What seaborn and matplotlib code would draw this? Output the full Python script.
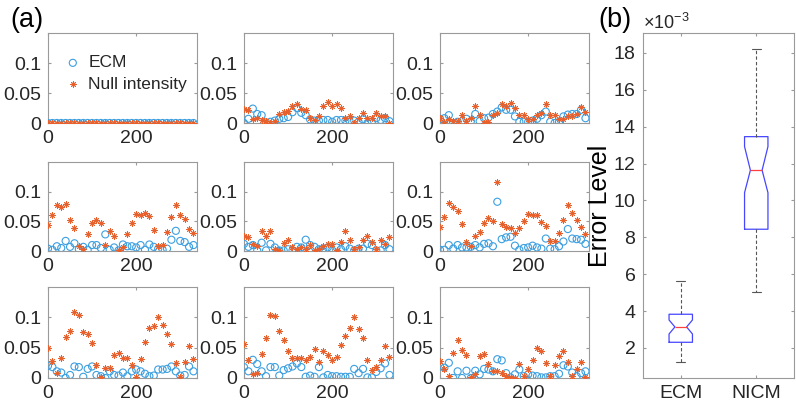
import numpy as np
import pandas as pd
import matplotlib
matplotlib.use("Agg")
import matplotlib.pyplot as plt
import seaborn as sns

# ---------------- data ----------------
angles = [0, 10, 20, 30, 40, 50, 60, 70, 80, 90, 100, 110, 120, 130, 140, 150, 160,
          170, 180, 190, 200, 210, 220, 230, 240, 250, 260, 270, 280, 290, 300, 310, 320, 330]

ecm_1 = [0.0] * 34
null_1 = [0.0] * 34

ecm_2 = [0.000, 0.007, 0.024, 0.015, 0.013, 0.001, 0.002, 0.004, 0.007, 0.008, 0.010, 0.018,
         0.025, 0.017, 0.013, 0.006, 0.004, 0.004, 0.005, 0.005, 0.002, 0.005, 0.005, 0.004,
         0.002, 0.004, 0.002, 0.006, 0.000, 0.002, 0.008, 0.005, 0.008, 0.003]
null_2 = [0.023, 0.021, 0.006, 0.009, 0.005, 0.003, 0.000, 0.004, 0.015, 0.018, 0.020, 0.028,
          0.032, 0.023, 0.021, 0.008, 0.005, 0.011, 0.029, 0.035, 0.029, 0.032, 0.025, 0.008,
          0.011, 0.000, 0.008, 0.016, 0.008, 0.008, 0.017, 0.011, 0.011, 0.000]

ecm_3 = [0.007, 0.008, 0.013, 0.000, 0.002, 0.003, 0.007, 0.003, 0.015, 0.003, 0.008, 0.009,
         0.015, 0.019, 0.026, 0.022, 0.022, 0.011, 0.002, 0.002, 0.002, 0.004, 0.007, 0.013,
         0.019, 0.002, 0.000, 0.002, 0.011, 0.014, 0.015, 0.015, 0.022, 0.008]
null_3 = [0.008, 0.001, 0.006, 0.003, 0.004, 0.014, 0.003, 0.008, 0.028, 0.013, 0.000, 0.002,
          0.013, 0.017, 0.032, 0.029, 0.033, 0.025, 0.013, 0.013, 0.007, 0.006, 0.013, 0.016,
          0.032, 0.014, 0.013, 0.007, 0.007, 0.012, 0.012, 0.015, 0.026, 0.019]

ecm_4 = [0.004, 0.002, 0.008, 0.005, 0.017, 0.007, 0.013, 0.003, 0.007, 0.002, 0.010, 0.010,
         0.005, 0.028, 0.002, 0.006, 0.001, 0.011, 0.008, 0.008, 0.006, 0.010, 0.002, 0.011,
         0.007, 0.004, 0.002, 0.004, 0.019, 0.034, 0.017, 0.015, 0.007, 0.010]
null_4 = [0.044, 0.060, 0.078, 0.074, 0.080, 0.053, 0.039, 0.008, 0.004, 0.028, 0.048, 0.052,
          0.047, 0.010, 0.034, 0.025, 0.001, 0.007, 0.029, 0.048, 0.062, 0.060, 0.064, 0.059,
          0.035, 0.008, 0.010, 0.032, 0.058, 0.077, 0.060, 0.054, 0.037, 0.030]

ecm_5 = [0.012, 0.007, 0.010, 0.001, 0.014, 0.001, 0.012, 0.006, 0.001, 0.001, 0.003, 0.001,
         0.007, 0.006, 0.019, 0.010, 0.007, 0.003, 0.004, 0.006, 0.001, 0.006, 0.003, 0.008,
         0.004, 0.001, 0.004, 0.004, 0.012, 0.010, 0.001, 0.001, 0.010, 0.003]
null_5 = [0.026, 0.023, 0.011, 0.008, 0.034, 0.025, 0.033, 0.004, 0.001, 0.014, 0.018, 0.007,
          0.003, 0.007, 0.003, 0.010, 0.001, 0.004, 0.008, 0.011, 0.011, 0.001, 0.015, 0.034,
          0.018, 0.004, 0.007, 0.019, 0.026, 0.015, 0.004, 0.018, 0.011, 0.023]

ecm_6 = [0.002, 0.002, 0.010, 0.004, 0.010, 0.006, 0.006, 0.007, 0.010, 0.006, 0.012, 0.013,
         0.008, 0.083, 0.020, 0.023, 0.024, 0.009, 0.002, 0.005, 0.006, 0.009, 0.006, 0.004,
         0.021, 0.004, 0.003, 0.008, 0.016, 0.037, 0.021, 0.020, 0.019, 0.012]
null_6 = [0.040, 0.058, 0.081, 0.074, 0.067, 0.045, 0.015, 0.008, 0.026, 0.032, 0.047, 0.055,
          0.051, 0.117, 0.045, 0.040, 0.038, 0.030, 0.039, 0.051, 0.063, 0.061, 0.061, 0.049,
          0.042, 0.017, 0.017, 0.031, 0.052, 0.078, 0.064, 0.053, 0.041, 0.029]

ecm_7 = [0.020, 0.018, 0.011, 0.009, 0.000, 0.005, 0.019, 0.018, 0.002, 0.015, 0.019, 0.005,
         0.003, 0.000, 0.011, 0.005, 0.004, 0.009, 0.003, 0.011, 0.014, 0.011, 0.007, 0.003,
         0.004, 0.014, 0.014, 0.015, 0.019, 0.011, 0.004, 0.005, 0.019, 0.011]
null_7 = [0.050, 0.028, 0.008, 0.033, 0.068, 0.077, 0.108, 0.104, 0.076, 0.072, 0.057, 0.022,
          0.001, 0.017, 0.017, 0.038, 0.042, 0.033, 0.033, 0.021, 0.002, 0.032, 0.060, 0.083,
          0.086, 0.100, 0.088, 0.072, 0.056, 0.025, 0.001, 0.027, 0.053, 0.032]

ecm_8 = [0.018, 0.011, 0.030, 0.023, 0.011, 0.003, 0.018, 0.018, 0.004, 0.013, 0.016, 0.019,
         0.024, 0.018, 0.002, 0.004, 0.002, 0.018, 0.001, 0.005, 0.003, 0.003, 0.002, 0.002,
         0.002, 0.015, 0.008, 0.015, 0.001, 0.001, 0.010, 0.016, 0.024, 0.005]
null_8 = [0.056, 0.029, 0.006, 0.008, 0.040, 0.066, 0.104, 0.102, 0.078, 0.062, 0.044, 0.033,
          0.033, 0.033, 0.029, 0.035, 0.048, 0.027, 0.044, 0.038, 0.029, 0.035, 0.055, 0.070,
          0.083, 0.100, 0.081, 0.066, 0.029, 0.013, 0.018, 0.030, 0.052, 0.034]

ecm_9 = [0.019, 0.017, 0.025, 0.000, 0.011, 0.000, 0.012, 0.000, 0.012, 0.006, 0.015, 0.014,
         0.011, 0.031, 0.029, 0.008, 0.001, 0.006, 0.014, 0.003, 0.006, 0.004, 0.003, 0.001,
         0.001, 0.003, 0.003, 0.007, 0.021, 0.019, 0.009, 0.003, 0.008, 0.011]
null_9 = [0.028, 0.015, 0.003, 0.041, 0.063, 0.046, 0.038, 0.001, 0.007, 0.036, 0.040, 0.023,
          0.011, 0.011, 0.008, 0.003, 0.001, 0.000, 0.023, 0.003, 0.015, 0.030, 0.050, 0.045,
          0.025, 0.003, 0.022, 0.036, 0.044, 0.027, 0.003, 0.015, 0.027, 0.002]

ecm_panels = [ecm_1, ecm_2, ecm_3, ecm_4, ecm_5, ecm_6, ecm_7, ecm_8, ecm_9]
null_panels = [null_1, null_2, null_3, null_4, null_5, null_6, null_7, null_8, null_9]

# boxplot summary (values in absolute units)
box_labels = ["ECM", "NICM"]
box_whislo = [1.23e-3, 5.02e-3]
box_q1 = [2.31e-3, 8.44e-3]
box_med = [3.14e-3, 11.64e-3]
box_q3 = [3.83e-3, 13.46e-3]
box_whishi = [5.65e-3, 18.23e-3]
box_cilo = [2.76e-3, 10.42e-3]
box_cihi = [3.52e-3, 12.92e-3]

# ---------------- style ----------------
sns.set_theme(style="white")
plt.rcParams["font.family"] = ["Liberation Sans", "DejaVu Sans"]
plt.rcParams["mathtext.fontset"] = "custom"
plt.rcParams["mathtext.rm"] = "Liberation Sans"

BLUE = "#3C9FE0"
ORANGE = "#E8602C"
SPINE = "#9a9a9a"
TXT = "#262626"

fig = plt.figure(figsize=(7.96, 4.08), dpi=100)

W, H = 796.0, 408.0
col_lefts = [48, 244, 440]
col_w = 149
row_tb = [(33, 123), (162, 251), (287, 378)]

ast_marker = (8, 2, 0)


def style_axes(ax):
    for s in ax.spines.values():
        s.set_color(SPINE)
        s.set_linewidth(0.8)
        s.set_visible(True)
    ax.tick_params(direction="in", length=2.5, width=0.8, color=SPINE,
                   top=True, right=True, bottom=True, left=True,
                   labelsize=14, labelcolor=TXT, pad=5)


for k in range(9):
    r, c = divmod(k, 3)
    top, bot = row_tb[r]
    ax = fig.add_axes([col_lefts[c] / W, 1 - bot / H, col_w / W, (bot - top) / H])
    df = pd.DataFrame({"angle": angles, "ECM": ecm_panels[k], "Null": null_panels[k]})
    sns.scatterplot(data=df, x="angle", y="ECM", ax=ax, marker="o", s=26,
                    facecolors="none", edgecolor=BLUE, linewidth=0.8,
                    label="ECM", zorder=3)
    sns.scatterplot(data=df, x="angle", y="Null", ax=ax, marker=ast_marker, s=17,
                    color=ORANGE, edgecolor=ORANGE, linewidth=0.65,
                    label="Null intensity", zorder=4)
    ax.set_xlim(0, 338)
    ax.set_ylim(0, 0.15)
    ax.set_xticks([0, 200], ["0", "200"])
    ax.set_yticks([0, 0.05, 0.1], ["0", "0.05", "0.1"])
    ax.set_xlabel("")
    ax.set_ylabel("")
    style_axes(ax)
    if k == 0:
        ax.legend(loc="upper left", bbox_to_anchor=(0.05, 0.83), frameon=False,
                  fontsize=12.5, handletextpad=0.3, labelspacing=0.35,
                  borderaxespad=0, handlelength=1.2, labelcolor=TXT)
    else:
        lg = ax.get_legend()
        if lg is not None:
            lg.remove()

# ---------------- box plot ----------------
axb = fig.add_axes([643 / W, 1 - 378 / H, 151 / W, 345 / H])
stats = []
for i in range(2):
    stats.append(dict(label=box_labels[i], whislo=box_whislo[i], q1=box_q1[i],
                      med=box_med[i], q3=box_q3[i], whishi=box_whishi[i],
                      cilo=box_cilo[i], cihi=box_cihi[i], fliers=[]))
axb.bxp(stats, positions=[1, 2], widths=0.31, shownotches=True, showfliers=False,
        capwidths=0.12,
        boxprops=dict(color="#4646ff", linewidth=0.9),
        medianprops=dict(color="#ff4040", linewidth=0.9),
        whiskerprops=dict(color="#555555", linewidth=0.8, linestyle=(0, (3, 2))),
        capprops=dict(color="#555555", linewidth=0.8))
axb.set_xlim(0.5, 2.5)
axb.set_ylim(0.373e-3, 19.08e-3)
axb.set_yticks([2e-3, 4e-3, 6e-3, 8e-3, 10e-3, 12e-3, 14e-3, 16e-3, 18e-3])
axb.ticklabel_format(axis="y", style="sci", scilimits=(-3, -3), useMathText=True)
axb.set_xticks([1, 2], box_labels)
style_axes(axb)
off = axb.yaxis.get_offset_text()
off.set_fontsize(13)
off.set_color(TXT)
off.set_horizontalalignment("left")
off.set_x(0.0)
axb.set_ylabel("Error Level", fontsize=18, color="black")
axb.yaxis.set_label_coords(-0.205, 0.5)

fig.text(10 / W, 1 - 20 / H, "(a)", fontsize=19.5, va="center", ha="left", color="black")
fig.text(598 / W, 1 - 20 / H, "(b)", fontsize=19.5, va="center", ha="left", color="black")

fig.savefig("out.png", dpi=100)
